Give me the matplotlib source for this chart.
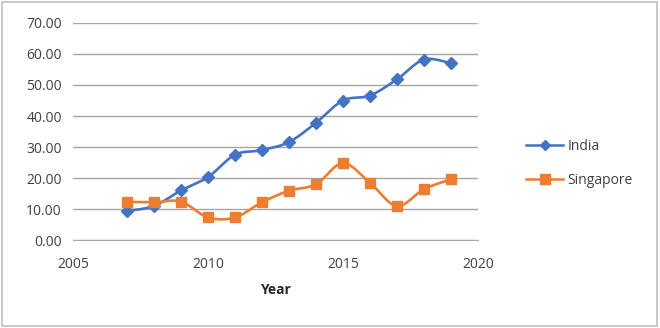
import matplotlib
matplotlib.use("Agg")
import matplotlib.pyplot as plt
import numpy as np
from matplotlib.patches import Rectangle
from matplotlib.lines import Line2D

years = [2007, 2008, 2009, 2010, 2011, 2012, 2013, 2014, 2015, 2016, 2017, 2018, 2019]
india = [9.4, 11.0, 16.0, 20.3, 27.5, 29.0, 31.6, 37.8, 45.0, 46.6, 51.8, 58.2, 57.0]
singapore = [12.3, 12.2, 12.4, 7.3, 7.3, 12.2, 15.9, 18.0, 24.8, 18.5, 11.0, 16.4, 19.6]
yticks = [0, 10, 20, 30, 40, 50, 60, 70]
xticks = [2005, 2010, 2015, 2020]

plt.rcParams['font.family'] = ['Open Sans', 'DejaVu Sans']

def smooth(x, y, n=20):
    x = np.asarray(x, float); y = np.asarray(y, float)
    P = np.column_stack([x, y])
    P = np.vstack([P[0], P, P[-1]])
    out = []
    for i in range(1, len(P) - 2):
        p0, p1, p2, p3 = P[i-1], P[i], P[i+1], P[i+2]
        c1 = p1 + (p2 - p0) / 6
        c2 = p2 - (p3 - p1) / 6
        t = np.linspace(0, 1, n)[:, None]
        seg = (1-t)**3*p1 + 3*(1-t)**2*t*c1 + 3*(1-t)*t**2*c2 + t**3*p2
        out.append(seg if i == 1 else seg[1:])
    S = np.vstack(out)
    return S[:, 0], S[:, 1]

fig = plt.figure(figsize=(6.6, 3.28), dpi=100)
fig.patches.append(Rectangle((0.003, 0.006), 0.992, 0.988, transform=fig.transFigure,
                             fill=False, edgecolor='#bfbfbf', linewidth=1.2))
ax = fig.add_axes([0.1106, 0.268, 0.6134, 0.662])

blue = '#4472c4'
orange = '#ed7d31'
sx, sy = smooth(years, india)
ax.plot(sx, sy, color=blue, linewidth=1.9, zorder=3)
ax.plot(years, india, linestyle='none', marker='D', markersize=5.8, color=blue, zorder=4)
sx, sy = smooth(years, singapore)
ax.plot(sx, sy, color=orange, linewidth=1.9, zorder=3)
ax.plot(years, singapore, linestyle='none', marker='s', markersize=7.2, color=orange, zorder=4)

ax.set_xlim(2005, 2020)
ax.set_ylim(0, 70)
ax.set_xticks(xticks)
ax.set_yticks(yticks)
ax.set_yticklabels([f"{v:.2f}" for v in yticks])
ax.grid(axis='y', color='#a6a6a6', linewidth=1.0)
ax.set_axisbelow(True)
for s in ['left', 'right', 'top']:
    ax.spines[s].set_visible(False)
ax.spines['bottom'].set_color('#a6a6a6')
ax.tick_params(axis='both', length=0, labelsize=10, colors='#404040', pad=8)
ax.tick_params(axis='x', pad=12)
ax.set_xlabel('Year', fontsize=10, fontweight='bold', color='#262626', labelpad=8)

handles = [Line2D([], [], color=blue, marker='D', markersize=5, linewidth=1.8),
           Line2D([], [], color=orange, marker='s', markersize=6.5, linewidth=1.8)]
fig.legend(handles, ['India', 'Singapore'], loc='center left', bbox_to_anchor=(0.778, 0.502),
           frameon=False, fontsize=10, labelcolor='#404040', handlelength=2.7,
           handletextpad=0.3, labelspacing=1.35)

fig.savefig('out.png', dpi=100)
